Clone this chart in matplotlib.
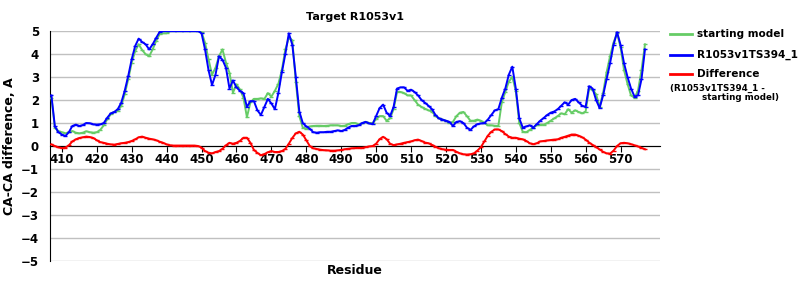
import matplotlib
matplotlib.use("Agg")
import matplotlib.pyplot as plt
from matplotlib.lines import Line2D

plt.rcParams['font.family'] = ['DejaVu Sans']
plt.rcParams['font.weight'] = 'bold'

# residues 407..577
residues = list(range(407, 578))

model = [
    2.2, 0.85, 0.6,
    0.5, 0.43, 0.6, 0.87, 0.93, 0.87, 0.91, 1.0, 0.99, 0.94,
    0.93, 0.94, 1.0, 1.23, 1.42, 1.48, 1.6, 1.88, 2.4, 3.04,
    3.77, 4.35, 4.67, 4.52, 4.42, 4.2, 4.42, 4.7, 4.96, 5.0,
    5.0, 5.0, 5.0, 5.0, 5.0, 5.0, 5.0, 5.0, 5.0, 5.0,
    4.9, 4.2, 3.3, 2.65, 3.1, 3.9, 3.75, 3.4, 2.5, 2.85,
    2.55, 2.4, 2.3, 1.7, 1.95, 1.95, 1.55, 1.35, 1.7, 2.05,
    1.85, 1.6, 2.3, 3.2, 4.0, 4.9, 4.4, 3.0, 1.5, 1.0,
    0.85, 0.75, 0.6, 0.58, 0.6, 0.6, 0.62, 0.62, 0.65, 0.68,
    0.65, 0.7, 0.8, 0.87, 0.87, 0.9, 1.0, 1.05, 0.98, 0.95,
    1.3, 1.65, 1.8, 1.45, 1.3, 1.7, 2.5, 2.55, 2.55, 2.4,
    2.45, 2.35, 2.2, 2.0, 1.88, 1.75, 1.6, 1.35, 1.2, 1.15,
    1.1, 1.05, 0.87, 1.05, 1.08, 1.0, 0.8, 0.7, 0.85, 0.95,
    0.98, 1.0, 1.15, 1.35, 1.55, 1.6, 2.1, 2.5, 3.1, 3.45,
    2.5, 1.2, 0.8, 0.85, 0.9, 0.8, 0.95, 1.1, 1.22, 1.35,
    1.45, 1.5, 1.6, 1.75, 1.9, 1.8, 2.0, 2.05, 1.9, 1.75,
    1.7, 2.6, 2.5, 2.0, 1.65, 2.2, 2.9, 3.6, 4.4, 4.95,
    4.4, 3.6, 3.0, 2.5, 2.15, 2.2, 2.9, 4.2,
]

starting = [
    2.1, 0.8, 0.65,
    0.6, 0.55, 0.6, 0.65, 0.58, 0.55, 0.58, 0.64, 0.6, 0.58,
    0.6, 0.7, 0.9, 1.16, 1.38, 1.48, 1.52, 1.74, 2.25, 2.9,
    3.62, 4.13, 4.42, 4.17, 3.99, 3.9, 4.2, 4.57, 4.86, 4.9,
    4.9, 5.0, 5.0, 5.0, 5.0, 5.0, 5.0, 5.0, 5.0, 5.0,
    4.96, 4.49, 3.77, 3.1, 3.4, 3.9, 4.2, 3.62, 3.19, 2.32,
    2.68, 2.46, 2.1, 1.25, 1.9, 2.05, 2.05, 2.07, 2.05, 2.3,
    2.15, 2.4, 2.7, 3.3, 4.2, 4.7, 4.6, 2.8, 1.3, 0.8,
    0.75, 0.85, 0.87, 0.88, 0.88, 0.87, 0.88, 0.9, 0.9, 0.9,
    0.87, 0.88, 0.95, 1.0, 1.0, 0.94, 0.98, 1.05, 1.0, 1.0,
    1.16, 1.3, 1.3, 1.1, 1.2, 1.6, 2.35, 2.35, 2.3, 2.2,
    2.2, 2.0, 1.8, 1.7, 1.62, 1.55, 1.5, 1.3, 1.2, 1.15,
    1.1, 1.0, 1.05, 1.3, 1.45, 1.48, 1.3, 1.1, 1.1, 1.15,
    1.1, 1.0, 0.9, 0.9, 0.88, 0.87, 1.9, 2.35, 2.8, 3.0,
    2.4, 1.0, 0.62, 0.6, 0.7, 0.8, 0.9, 0.92, 0.92, 1.0,
    1.1, 1.2, 1.3, 1.42, 1.38, 1.6, 1.45, 1.55, 1.48, 1.42,
    1.5, 2.5, 2.45, 2.25, 1.7, 2.3, 3.2, 3.9, 4.5, 4.9,
    4.3, 3.3, 2.7, 2.2, 2.1, 2.4, 3.3, 4.42,
]

difference = [
    0.07, 0.0, -0.06,
    -0.09, -0.07, 0.03, 0.2, 0.29, 0.35, 0.38, 0.41, 0.39, 0.35,
    0.25, 0.17, 0.14, 0.1, 0.07, 0.06, 0.09, 0.12, 0.14, 0.17,
    0.22, 0.29, 0.38, 0.41, 0.36, 0.32, 0.29, 0.25, 0.19, 0.14,
    0.07, 0.03, 0.02, 0.02, 0.02, 0.02, 0.02, 0.02, 0.02, 0.0,
    -0.07, -0.22, -0.29, -0.32, -0.26, -0.22, -0.12, 0.03, 0.14, 0.1,
    0.14, 0.22, 0.36, 0.36, 0.14, -0.17, -0.3, -0.4, -0.35, -0.27,
    -0.22, -0.26, -0.26, -0.22, -0.13, 0.1, 0.35, 0.55, 0.62, 0.5,
    0.25, 0.0, -0.1, -0.13, -0.16, -0.18, -0.19, -0.2, -0.2, -0.19,
    -0.17, -0.14, -0.12, -0.1, -0.09, -0.08, -0.08, -0.05, -0.02, 0.0,
    0.1, 0.3, 0.4, 0.3, 0.1, 0.04, 0.07, 0.1, 0.14, 0.17,
    0.2, 0.25, 0.28, 0.22, 0.15, 0.12, 0.05, -0.03, -0.1, -0.14,
    -0.16, -0.17, -0.17, -0.25, -0.32, -0.36, -0.37, -0.36, -0.32, -0.2,
    -0.05, 0.2, 0.45, 0.62, 0.72, 0.72, 0.65, 0.52, 0.41, 0.36,
    0.36, 0.32, 0.29, 0.22, 0.12, 0.08, 0.12, 0.2, 0.22, 0.24,
    0.26, 0.28, 0.29, 0.36, 0.4, 0.45, 0.5, 0.5, 0.45, 0.38,
    0.28, 0.15, 0.05, -0.05, -0.15, -0.25, -0.32, -0.33, -0.2, 0.0,
    0.12, 0.14, 0.12, 0.08, 0.03, -0.02, -0.08, -0.14,
]

GREEN = '#66CC66'
BLUE = '#0000FF'
RED = '#FF0000'

W, H = 800, 300
fig = plt.figure(figsize=(8, 3), dpi=100)
ax = fig.add_axes([50 / W, 1 - 261 / H, 610 / W, 230 / H])

ax.set_xlim(406.6, 581.3)
ax.set_ylim(-5, 5)
ax.set_yticks(range(-5, 6))
ax.grid(axis='y', color='#C0C0C0', linewidth=1.0, zorder=0)
ax.set_axisbelow(True)

style = dict(linewidth=1.4, marker='_', markersize=3, markeredgewidth=1, zorder=3)
ax.plot(residues, starting, color=GREEN, **style)
ax.plot(residues, model, color=BLUE, **style)
ax.plot(residues, difference, color=RED, **style)

for s in ['top', 'right']:
    ax.spines[s].set_visible(False)
ax.spines['bottom'].set_position(('data', 0))
ax.spines['bottom'].set_color('black')
ax.spines['bottom'].set_zorder(2)
ax.spines['left'].set_color('black')

ax.set_xticks(range(410, 580, 10))
ax.tick_params(axis='x', direction='out', length=4, pad=1, labelsize=8.5)
ax.tick_params(axis='y', length=0, pad=8, labelsize=8.5)
for lab in ax.get_xticklabels() + ax.get_yticklabels():
    lab.set_fontweight('bold')

ax.set_title('Target R1053v1', fontsize=8, fontweight='bold', pad=8)
ax.set_ylabel('CA-CA difference, A', fontsize=9, fontweight='bold')
ax.yaxis.set_label_coords((16 - 50) / 610, 0.5)
fig.text(355 / W, 1 - 270 / H, 'Residue', ha='center', va='center',
         fontsize=9, fontweight='bold')

# legend drawn by hand, outside the plot on the right
legend_rows = [('starting model', GREEN, 34), ('R1053v1TS394_1', BLUE, 55), ('Difference', RED, 74)]
for label, color, y in legend_rows:
    fig.add_artist(Line2D([670 / W, 692 / W], [1 - y / H, 1 - y / H], color=color,
                          linewidth=2, transform=fig.transFigure))
    fig.text(697 / W, 1 - y / H, label, fontsize=7.6, fontweight='bold', va='center')
fig.text(670 / W, 1 - 88 / H, '(R1053v1TS394_1 -', fontsize=6.3, fontweight='bold', va='center')
fig.text(702 / W, 1 - 98 / H, 'starting model)', fontsize=6.3, fontweight='bold', va='center')

fig.savefig('out.png', dpi=100)
